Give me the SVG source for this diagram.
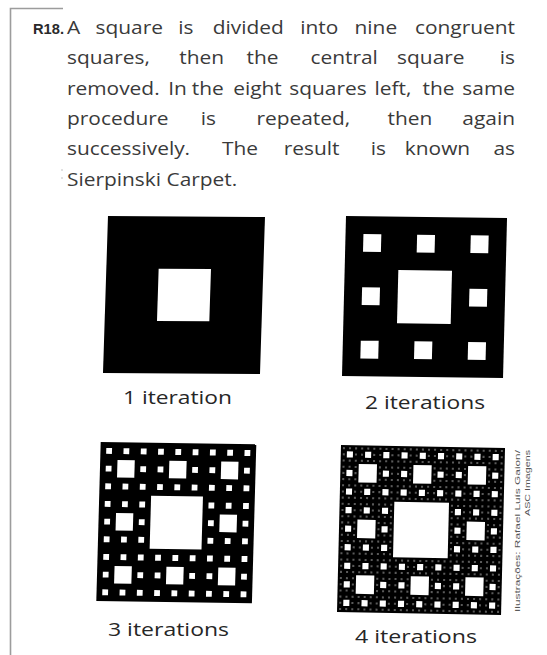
<svg xmlns="http://www.w3.org/2000/svg" width="547" height="655" viewBox="0 0 547 655">
<style>
.body{font-family:"Open Sans","Noto Sans",sans-serif;font-size:19px;fill:#3a3a3a;text-anchor:middle}
.body.s{text-anchor:start}
.body.e{text-anchor:end}
.lbl{font-family:"Open Sans","Noto Sans",sans-serif;font-size:19px;fill:#262626}
.num{font-family:"Liberation Sans",Arial,sans-serif;font-size:15px;font-weight:bold;fill:#2a2a2a}
.credit{font-family:"Liberation Sans",Arial,sans-serif;font-size:7.5px;fill:#555}
.hole{fill:#fff}
.dot{fill:#5a5a5a}
</style>
<defs>
<rect id="h1" class="hole" x="27" y="27" width="27" height="27"/>
<rect id="h1g" class="dot" x="27" y="27" width="27" height="27"/>
<g id="h2">
<use href="#h1"/>
<use href="#h1" transform="translate(0 0) scale(0.333333)"/>
<use href="#h1" transform="translate(27 0) scale(0.333333)"/>
<use href="#h1" transform="translate(54 0) scale(0.333333)"/>
<use href="#h1" transform="translate(0 27) scale(0.333333)"/>
<use href="#h1" transform="translate(54 27) scale(0.333333)"/>
<use href="#h1" transform="translate(0 54) scale(0.333333)"/>
<use href="#h1" transform="translate(27 54) scale(0.333333)"/>
<use href="#h1" transform="translate(54 54) scale(0.333333)"/>
</g>
<g id="h2g">
<use href="#h1"/>
<use href="#h1g" transform="translate(0 0) scale(0.333333)"/>
<use href="#h1g" transform="translate(27 0) scale(0.333333)"/>
<use href="#h1g" transform="translate(54 0) scale(0.333333)"/>
<use href="#h1g" transform="translate(0 27) scale(0.333333)"/>
<use href="#h1g" transform="translate(54 27) scale(0.333333)"/>
<use href="#h1g" transform="translate(0 54) scale(0.333333)"/>
<use href="#h1g" transform="translate(27 54) scale(0.333333)"/>
<use href="#h1g" transform="translate(54 54) scale(0.333333)"/>
</g>
<g id="h3">
<use href="#h1"/>
<use href="#h2" transform="translate(0 0) scale(0.333333)"/>
<use href="#h2" transform="translate(27 0) scale(0.333333)"/>
<use href="#h2" transform="translate(54 0) scale(0.333333)"/>
<use href="#h2" transform="translate(0 27) scale(0.333333)"/>
<use href="#h2" transform="translate(54 27) scale(0.333333)"/>
<use href="#h2" transform="translate(0 54) scale(0.333333)"/>
<use href="#h2" transform="translate(27 54) scale(0.333333)"/>
<use href="#h2" transform="translate(54 54) scale(0.333333)"/>
</g>
<g id="h3g">
<use href="#h1"/>
<use href="#h2g" transform="translate(0 0) scale(0.333333)"/>
<use href="#h2g" transform="translate(27 0) scale(0.333333)"/>
<use href="#h2g" transform="translate(54 0) scale(0.333333)"/>
<use href="#h2g" transform="translate(0 27) scale(0.333333)"/>
<use href="#h2g" transform="translate(54 27) scale(0.333333)"/>
<use href="#h2g" transform="translate(0 54) scale(0.333333)"/>
<use href="#h2g" transform="translate(27 54) scale(0.333333)"/>
<use href="#h2g" transform="translate(54 54) scale(0.333333)"/>
</g>
<g id="h4">
<use href="#h1"/>
<use href="#h3g" transform="translate(0 0) scale(0.333333)"/>
<use href="#h3g" transform="translate(27 0) scale(0.333333)"/>
<use href="#h3g" transform="translate(54 0) scale(0.333333)"/>
<use href="#h3g" transform="translate(0 27) scale(0.333333)"/>
<use href="#h3g" transform="translate(54 27) scale(0.333333)"/>
<use href="#h3g" transform="translate(0 54) scale(0.333333)"/>
<use href="#h3g" transform="translate(27 54) scale(0.333333)"/>
<use href="#h3g" transform="translate(54 54) scale(0.333333)"/>
</g>
</defs>
<rect width="547" height="655" fill="#fff"/>
<g id="frame">
<path d="M10.5 655 V8.5 H63" fill="none" stroke="#9c9c9c" stroke-width="1.6"/>
<circle cx="62" cy="170" r="0.8" fill="#bbb"/>
<circle cx="62" cy="178" r="0.8" fill="#bbb"/>
</g>
<g id="statement">
<text class="num" x="33" y="34" textLength="31" lengthAdjust="spacingAndGlyphs">R18.</text>
<g transform="scale(1.1 1)">
<text class="body s" x="60.91" y="34">A</text>
<text class="body" y="34"><tspan x="117.45">square</tspan><tspan x="168.91">is</tspan><tspan x="225.73">divided</tspan><tspan x="290.18">into</tspan><tspan x="341.64">nine</tspan></text>
<text class="body e" x="468.18" y="34">congruent</text>
<text class="body s" x="60.91" y="64.5">squares,</text>
<text class="body" y="64.5"><tspan x="183.36">then</tspan><tspan x="238.64">the</tspan><tspan x="312.91">central</tspan><tspan x="391.64">square</tspan></text>
<text class="body e" x="468.18" y="64.5">is</text>
<text class="body s" x="60.91" y="95">removed.</text>
<text class="body" y="95"><tspan x="161.36">In</tspan><tspan x="188.91">the</tspan><tspan x="234.09">eight</tspan><tspan x="298.2">squares</tspan><tspan x="357.3">left,</tspan><tspan x="398.6">the</tspan></text>
<text class="body e" x="468.18" y="95">same</text>
<text class="body s" x="60.91" y="125">procedure</text>
<text class="body" y="125"><tspan x="189.36">is</tspan><tspan x="275.73">repeated,</tspan><tspan x="372.73">then</tspan></text>
<text class="body e" x="468.18" y="125">again</text>
<text class="body s" x="60.91" y="155.5">successively.</text>
<text class="body" y="155.5"><tspan x="218.18">The</tspan><tspan x="283.36">result</tspan><tspan x="343.91">is</tspan><tspan x="397.73">known</tspan></text>
<text class="body e" x="468.18" y="155.5">as</text>
<text class="body s" x="60.91" y="186">Sierpinski Carpet.</text>
</g>
</g>
<g id="carpet1">
<g transform="matrix(1.938 0.0123 -0.0617 1.938 108 216)">
<rect width="81" height="81" fill="#000"/>
<use href="#h1"/>
</g>
<text class="lbl" x="123" y="404" textLength="109" lengthAdjust="spacingAndGlyphs">1 iteration</text>
</g>
<g id="carpet2">
<g transform="matrix(1.988 0.0247 -0.0494 1.975 346 216)">
<rect width="81" height="81" fill="#000"/>
<use href="#h2"/>
</g>
<text class="lbl" x="365" y="409" textLength="120" lengthAdjust="spacingAndGlyphs">2 iterations</text>
</g>
<g id="carpet3">
<g transform="matrix(1.921 0.0284 -0.0543 1.963 100.7 442)">
<rect width="81" height="81" fill="#000"/>
<use href="#h3"/>
</g>
<text class="lbl" x="108" y="636" textLength="121" lengthAdjust="spacingAndGlyphs">3 iterations</text>
</g>
<g id="carpet4">
<g transform="matrix(2.025 0.037 -0.0494 2.062 341 445)">
<rect width="81" height="81" fill="#000"/>
<use href="#h4"/>
</g>
<text class="lbl" x="355" y="643" textLength="122" lengthAdjust="spacingAndGlyphs">4 iterations</text>
</g>
<g id="credit">
<text class="credit" transform="translate(520 450) rotate(-90)" text-anchor="end" textLength="162" lengthAdjust="spacingAndGlyphs">Ilustrações: Rafael Luís Gaion/</text>
<text class="credit" transform="translate(530 450) rotate(-90)" text-anchor="end" textLength="66" lengthAdjust="spacingAndGlyphs">ASC Imagens</text>
</g>
</svg>
